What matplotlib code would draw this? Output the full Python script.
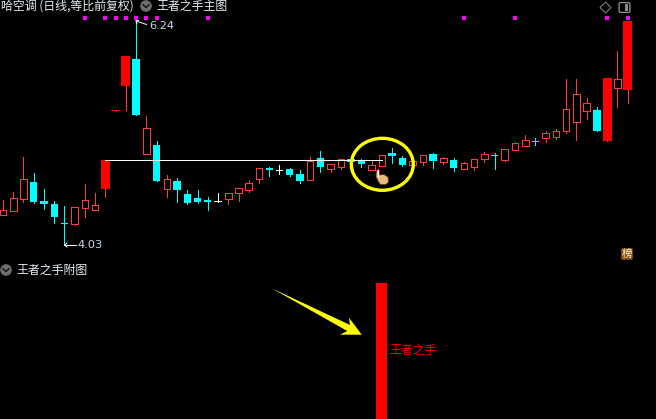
import matplotlib
matplotlib.use("Agg")
import matplotlib.pyplot as plt
from matplotlib.patches import Rectangle, Ellipse, Polygon, Circle, FancyBboxPatch

plt.rcParams['font.family'] = ['Noto Sans CJK SC', 'DejaVu Sans']

# Candle data in chart levels (screen-row units; smaller = higher price)
body_top = [210.3,198.3,179.3,182,201,204,223.3,207.3,200.3,205.3,160,110,56,59,128.3,145,179.3,181,194,198,200,201.3,
            193.3,188.3,183.3,168.3,168,169.7,169,174,160.7,158,164,159.3,159.3,160.7,165,155.3,153,158,161.3,155.3,154,
            158.3,160,163.3,159.3,154.3,155,149.3,143.3,140.3,141,133.3,131.3,109.3,94.3,103.3,110,78,79.3,21]
body_bot = [214.7,210.7,199.3,202,204,217,224.3,223.7,207.7,209.7,189,111,86,115,153.7,181,189.3,190,203,202,201.7,202,
            198.7,193.3,189.7,178.7,170,170.7,175,181,179.7,167,169,166.7,161.7,164,169.7,165.7,155.7,165,164.7,161.7,161,
            161.7,168,168.7,166.7,159,156,160,150,145.7,142,137.7,136.7,130.7,121.7,110.7,131,141,87.7,90]
highs = [200,192,157.3,173,189.3,201,206,207.3,184,193,160,110,56,20,116.3,141,175,178,190,190,197,193,
         193.3,188.3,180,168.3,167,165,168,170,157,151,164,159.3,156,159,161,155.3,148,156,161.3,155.3,153,
         157,158,162,159.3,152,153,149.3,142,135,138,131,129,79,79,98,107,78,51,21]
lows = [215,211,201.7,203,209,223,245,225,217,209.7,197,111,110,115,153.7,181,197,202,204,203,210,202,
        204,201,192,183,176,174,176,183,179.7,172,172,169,162,167,169.7,165.7,163,166,164.7,165,168,
        164,171,168.7,170,162,169,161,150,145.7,145,142,139,133,140,119,131,141,107,103]
# candle style: h = hollow red, c = cyan, r = filled red, w = white doji
kinds = list("hhhcccchhhrrrchchccccw"
             "hhhhcwcchchhcchhcchhc"
             "hchhhchhhchhhhhcrhr")
signal_marks = [8, 10, 11, 12, 13, 14, 15, 20, 45, 50, 59, 61]

title_main = "哈空调 (日线,等比前复权)"
title_ind1 = "王者之手主图"
title_ind2 = "王者之手附图"
signal_label = "王者之手"
high_label = "6.24"
low_label = "4.03"
badge_label = "榜"
signal_index = 36.43
signal_bar_top = 283
signal_bar_bottom = 419
break_level = 160.3
break_from, break_to = 10, 37

W, H, DPI = 656, 419, 100
fig = plt.figure(figsize=(W / DPI, H / DPI), dpi=DPI, facecolor="black")
X0, STEP = 3.0, 10.24
ax = fig.add_axes([0, 0, 1, 1], facecolor="black")
ax.set_xlim(-X0 / STEP, (W - X0) / STEP)
ax.set_ylim(H, 0)
ax.axis("off")

ov = fig.add_axes([0, 0, 1, 1], facecolor="none")
ov.set_xlim(0, W)
ov.set_ylim(H, 0)
ov.axis("off")

HOLLOW = "#ff3c3c"
CYAN = "#00ffff"
px = 0.72
COLORS = {"h": HOLLOW, "c": CYAN, "w": "white", "r": "#ff0000"}
WIDTHS = {"h": 0.64, "c": 0.72, "w": 0.72, "r": 0.88}
for i, (t, b, hi, lo, k) in enumerate(zip(body_top, body_bot, highs, lows, kinds)):
    col = COLORS[k]
    wickcol = HOLLOW if k == "r" else col
    ax.plot([i, i], [hi, lo], color=wickcol, lw=px, solid_capstyle="butt", zorder=2, antialiased=False)
    w = WIDTHS[k]
    if k == "h":
        ax.add_patch(Rectangle((i - w / 2, t), w, b - t, fc="black", ec=col, lw=px, zorder=3, antialiased=False))
    else:
        ax.add_patch(Rectangle((i - w / 2, t), w, max(b - t, 1), fc=col, ec="none", zorder=3, antialiased=False))

# break-out white line
ax.plot([break_from, break_to], [break_level, break_level], color="white", lw=px, zorder=4, antialiased=False)

# signal squares
ax.scatter(signal_marks, [18.3] * len(signal_marks), marker="s", s=5, color="#ff00ff", linewidths=0, zorder=5)

# Yellow circle
ov.add_patch(Ellipse((382.3, 164.3), 62, 52, fc="none", ec="#ffff00", lw=2.4, zorder=6))

# hand cursor
hand = [(376.5, 170), (378.5, 170), (379, 175), (384, 174.5), (388, 177), (388.5, 182), (386, 184.5),
        (380.5, 184.5), (378, 181), (376, 176.5)]
ov.add_patch(Polygon(hand, closed=True, fc="#e8bd7c", ec="#5a3d1c", lw=0.6, zorder=7))
ov.plot([378, 378], [170, 176], color="white", lw=1.0, zorder=8)

# Arrow
arrow = [(271.7, 288.3), (350, 325), (349, 317.7), (361.7, 334.7), (340, 334.7), (347.3, 331)]
ov.add_patch(Polygon(arrow, closed=True, fc="#ffff00", ec="none", zorder=6))

# Signal bar in lower panel
ax.add_patch(Rectangle((signal_index, signal_bar_top), 1.07, signal_bar_bottom - signal_bar_top,
                       fc="#ff0000", ec="none", zorder=3, antialiased=False))
ov.text(389.5, 350.5, signal_label, color="#ff0000", fontsize=8.6, va="center", ha="left")

# Texts
LBL = "#e4ecf2"
ov.text(1, 6, title_main, color=LBL, fontsize=8.6, va="center", ha="left")
ov.text(156, 6, title_ind1, color=LBL, fontsize=8.6, va="center", ha="left")
ov.text(16, 270, title_ind2, color=LBL, fontsize=8.6, va="center", ha="left")
ov.text(149, 26, high_label, color="#c8d8ea", fontsize=8.2, va="center", ha="left", family="DejaVu Sans")
ov.text(77, 245, low_label, color="#c8d8ea", fontsize=8.2, va="center", ha="left", family="DejaVu Sans")

# high / low pointers
ov.plot([136, 146.5], [21, 24.5], color="white", lw=0.7)
ov.plot([138.5, 136, 137], [20.5, 21, 23.5], color="white", lw=0.7)
ov.plot([64.5, 76], [245, 245], color="white", lw=0.7)
ov.plot([67, 64.5, 67], [243, 245, 247], color="white", lw=0.7)

# chevron icons
for cx, cy in [(146, 6), (6, 270)]:
    ov.add_patch(Circle((cx, cy), 5.8, fc="#6e6e6e", ec="none", zorder=3))
    ov.plot([cx - 3, cx, cx + 3], [cy - 1.3, cy + 1.5, cy - 1.3], color="#111111", lw=1.0, zorder=4)

# toolbar icons
ov.add_patch(Polygon([(605.5, 2), (611, 7.5), (605.5, 13), (600, 7.5)], closed=True, fc="none", ec="#8a8a8a", lw=0.7))
ov.add_patch(FancyBboxPatch((619.5, 3), 10, 9, boxstyle="round,pad=0.4,rounding_size=1.5", fc="none", ec="#8a8a8a", lw=1.0))
ov.add_patch(Rectangle((625, 4), 3.2, 7, fc="#8a8a8a", ec="none"))

# badge
ov.add_patch(FancyBboxPatch((621.5, 248.5), 11, 11, boxstyle="round,pad=0.3,rounding_size=1.5", fc="#8a5414", ec="none"))
ov.text(627, 254, badge_label, color="#fff0d0", fontsize=7.6, va="center", ha="center")

fig.savefig("out.png", dpi=DPI, facecolor="black")
